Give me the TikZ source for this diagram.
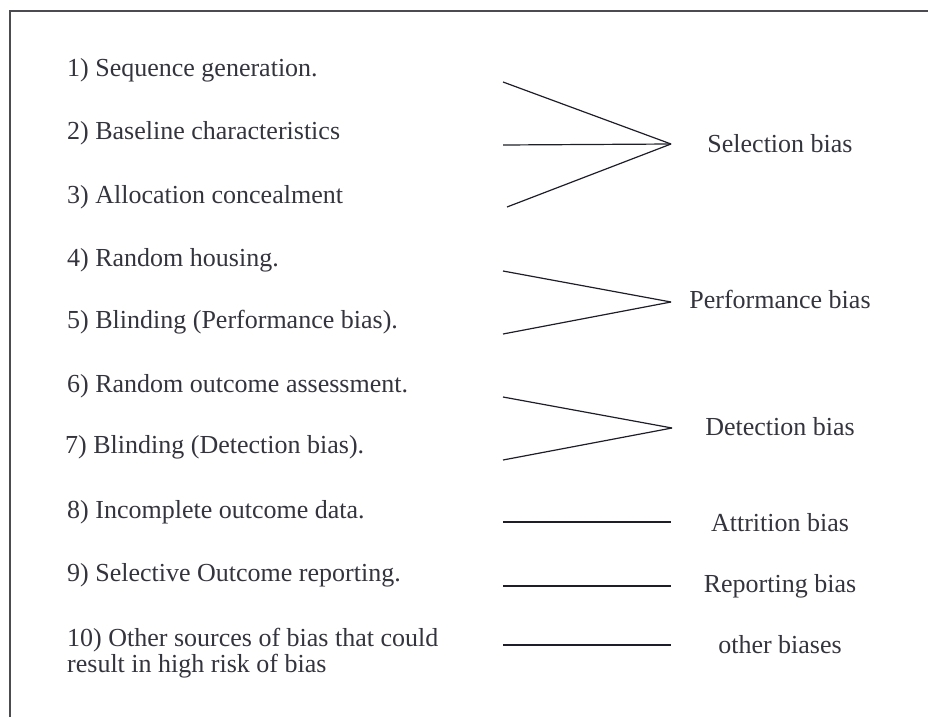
\documentclass[tikz,border=0pt]{standalone}
\usepackage{fontspec}
\setmainfont{Liberation Serif}
\definecolor{txt}{RGB}{52,52,62}
\definecolor{ln}{RGB}{30,30,42}
\definecolor{frame}{RGB}{75,75,80}
\begin{document}
\begin{tikzpicture}[x=1pt,y=-1pt,
  item/.style={anchor=base west,inner sep=0pt,text=txt,font=\fontsize{26}{26}\selectfont},
  bias/.style={anchor=base,inner sep=0pt,text=txt,font=\fontsize{26}{26}\selectfont},
  conn/.style={draw=ln,line width=1.2pt}]
\useasboundingbox (0,0) rectangle (928,717);
\draw[frame,line width=2pt] (10,717) -- (10,11) -- (928,11);
% left items
\node[item] (i1) at (67,77) {1) Sequence generation.};
\node[item] (i2) at (67,139) {2) Baseline characteristics};
\node[item] (i3) at (67,203) {3) Allocation concealment};
\node[item] (i4) at (67,266) {4) Random housing.};
\node[item] (i5) at (67,328) {5) Blinding (Performance bias).};
\node[item] (i6) at (67,392) {6) Random outcome assessment.};
\node[item] (i7) at (65,453) {7) Blinding (Detection bias).};
\node[item] (i8) at (67,518) {8) Incomplete outcome data.};
\node[item] (i9) at (67,581) {9) Selective Outcome reporting.};
\node[item,align=left] (i10) at (67,672) {10) Other sources of bias that could\\result in high risk of bias};
% right labels
\node[bias] (sel) at (780,152) {Selection bias};
\node[bias] (perf) at (780,308) {Performance bias};
\node[bias] (det) at (780,435) {Detection bias};
\node[bias] (att) at (780,531) {Attrition bias};
\node[bias] (rep) at (780,592) {Reporting bias};
\node[bias] (oth) at (780,653) {other biases};
% connector points
\coordinate (s1) at (503,82);
\coordinate (s2) at (503,145);
\coordinate (s3) at (507,207);
\coordinate (sA) at (671,144);
\coordinate (p1) at (503,271);
\coordinate (p2) at (503,334);
\coordinate (pA) at (671,302);
\coordinate (d1) at (503,397);
\coordinate (d2) at (503,460);
\coordinate (dA) at (672,428);
\coordinate (a1) at (503,522);
\coordinate (aA) at (671,522);
\coordinate (r1) at (503,586);
\coordinate (rA) at (671,586);
\coordinate (o1) at (503,645);
\coordinate (oA) at (671,645);
\draw[conn] (s1) -- (sA);
\draw[conn] (s2) -- (sA);
\draw[conn] (s3) -- (sA);
\draw[conn] (p1) -- (pA);
\draw[conn] (p2) -- (pA);
\draw[conn] (d1) -- (dA);
\draw[conn] (d2) -- (dA);
\draw[conn] (a1) -- (aA);
\draw[conn] (r1) -- (rA);
\draw[conn] (o1) -- (oA);
\end{tikzpicture}
\end{document}
